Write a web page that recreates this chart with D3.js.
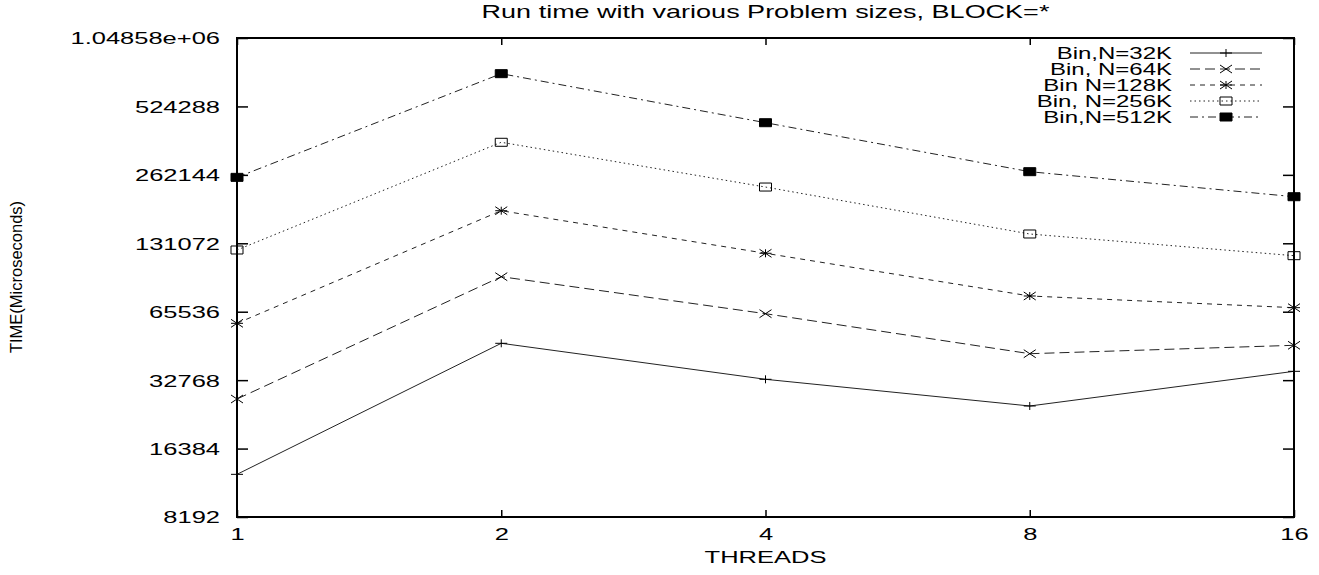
<!DOCTYPE html>
<html>
<head>
<meta charset="utf-8">
<script src="https://cdn.jsdelivr.net/npm/d3@7"></script>
<style>
  body { margin: 0; background: #fff; }
  text { font-family: "Liberation Sans", Arial, sans-serif; fill: #000; }
</style>
</head>
<body>
<div id="chart"></div>
<script>
// data
const threads = [1, 2, 4, 8, 16];
const seriesNames = ["Bin,N=32K", "Bin, N=64K", "Bin N=128K", "Bin, N=256K", "Bin,N=512K"];
const n32k  = [12620, 47590, 33050, 25220, 35830];
const n64k  = [27070, 93450, 64230, 42830, 46640];
const n128k = [58270, 182300, 118450, 76850, 68270];
const n256k = [122470, 364600, 231700, 144000, 115600];
const n512k = [255600, 730600, 444600, 270700, 210100];
const yTickValues = [8192, 16384, 32768, 65536, 131072, 262144, 524288, 1048576];
const yTickLabels = ["8192", "16384", "32768", "65536", "131072", "262144", "524288", "1.04858e+06"];
const xTickLabels = ["1", "2", "4", "8", "16"];

const allSeries = [n32k, n64k, n128k, n256k, n512k];
const dashes = [null, "10,5", "5,5", "1.5,3", "8,4,2,4"];
const markers = ["plus", "cross", "star", "box", "fbox"];

const width = 1319, height = 575;
const plotL = 237, plotR = 1294, plotT = 38, plotB = 517;
const sx = 1.5; // text is stretched sideways in the original

const svg = d3.select('#chart').append('svg')
  .attr('width', width)
  .attr('height', height);

const x = d3.scaleLog().base(2).domain([1, 16]).range([plotL, plotR]);
const y = d3.scaleLog().base(2).domain([8192, 1048576]).range([plotB, plotT]);

// axes with inward ticks
const gL = svg.append('g').attr('transform', `translate(${plotL},0)`)
  .call(d3.axisLeft(y).tickValues(yTickValues).tickSize(-11).tickPadding(17)
    .tickFormat((d, i) => yTickLabels[i]));
const gR = svg.append('g').attr('transform', `translate(${plotR},0)`)
  .call(d3.axisRight(y).tickValues(yTickValues).tickSize(-11).tickFormat(''));
const gB = svg.append('g').attr('transform', `translate(0,${plotB})`)
  .call(d3.axisBottom(x).tickValues(threads).tickSize(-7).tickPadding(10)
    .tickFormat((d, i) => xTickLabels[i]));
const gT = svg.append('g').attr('transform', `translate(0,${plotT})`)
  .call(d3.axisTop(x).tickValues(threads).tickSize(-7).tickFormat(''));

[gL, gR, gB, gT].forEach(g => {
  g.select('.domain').remove();
  g.selectAll('.tick line').attr('stroke', '#000').attr('stroke-width', 1.5);
});

gL.selectAll('.tick text')
  .attr('font-size', 17)
  .attr('x', 0)
  .attr('dy', '0.35em')
  .attr('transform', `translate(-17,0) scale(${sx},1)`);
gB.selectAll('.tick text')
  .attr('font-size', 17)
  .attr('y', 0)
  .attr('dy', '0.35em')
  .attr('transform', `translate(0,17) scale(${sx},1)`);

svg.append('rect')
  .attr('x', plotL).attr('y', plotT)
  .attr('width', plotR - plotL).attr('height', plotB - plotT)
  .attr('fill', 'none').attr('stroke', '#000').attr('stroke-width', 2);

function drawMarker(g, type, cx, cy) {
  const hw = 6, hh = 4;
  const s = g.append('path').attr('stroke', '#000').attr('stroke-width', 1);
  let p = '';
  if (type === 'plus') p = `M${cx - hw},${cy}H${cx + hw}M${cx},${cy - hh}V${cy + hh}`;
  if (type === 'cross') p = `M${cx - hw},${cy - hh}L${cx + hw},${cy + hh}M${cx - hw},${cy + hh}L${cx + hw},${cy - hh}`;
  if (type === 'star') p = `M${cx - hw},${cy}H${cx + hw}M${cx},${cy - hh}V${cy + hh}M${cx - hw},${cy - hh}L${cx + hw},${cy + hh}M${cx - hw},${cy + hh}L${cx + hw},${cy - hh}`;
  if (type === 'box' || type === 'fbox') p = `M${cx - hw},${cy - hh}H${cx + hw}V${cy + hh}H${cx - hw}Z`;
  s.attr('d', p).attr('fill', type === 'fbox' ? '#000' : 'none');
}

const line = d3.line()
  .x((d, i) => x(threads[i]))
  .y(d => y(d));

allSeries.forEach((vals, k) => {
  const g = svg.append('g');
  g.append('path')
    .attr('d', line(vals))
    .attr('fill', 'none')
    .attr('stroke', '#222')
    .attr('stroke-width', 1)
    .attr('stroke-dasharray', dashes[k]);
  vals.forEach((v, i) => drawMarker(g, markers[k], x(threads[i]), y(v)));

  // legend row
  const ly = 53 + k * 16;
  g.append('text')
    .attr('font-size', 16)
    .attr('text-anchor', 'end')
    .attr('dy', '0.35em')
    .attr('transform', `translate(1172,${ly}) scale(${sx},1)`)
    .text(seriesNames[k]);
  g.append('line')
    .attr('x1', 1190).attr('x2', 1262)
    .attr('y1', ly).attr('y2', ly)
    .attr('stroke', '#222').attr('stroke-width', 1)
    .attr('stroke-dasharray', dashes[k]);
  drawMarker(g, markers[k], 1226, ly);
});

svg.append('text')
  .attr('font-size', 18)
  .attr('text-anchor', 'middle')
  .attr('dy', '0.35em')
  .attr('transform', `translate(${(plotL + plotR) / 2},12) scale(${sx},1)`)
  .text('Run time with various Problem sizes, BLOCK=*');

svg.append('text')
  .attr('font-size', 17)
  .attr('text-anchor', 'middle')
  .attr('dy', '0.35em')
  .attr('transform', `translate(${(plotL + plotR) / 2},557) scale(${sx},1)`)
  .text('THREADS');

svg.append('text')
  .attr('font-size', 16.5)
  .attr('text-anchor', 'middle')
  .attr('dy', '0.35em')
  .attr('transform', 'translate(16,277) rotate(-90)')
  .text('TIME(Microseconds)');
</script>
</body>
</html>
